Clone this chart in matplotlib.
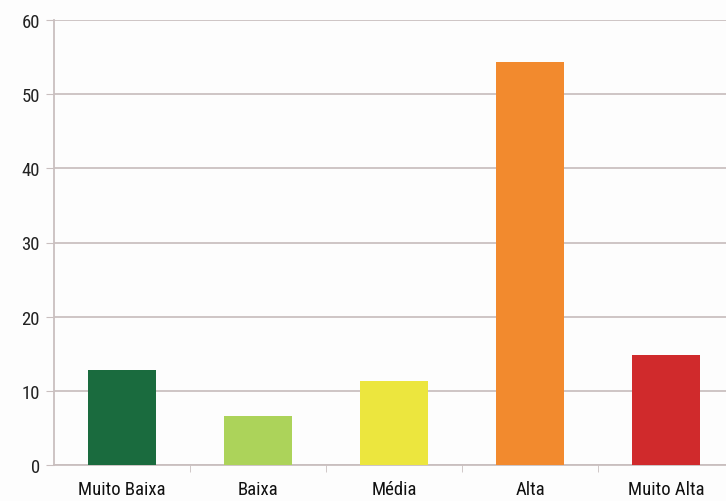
import matplotlib
matplotlib.use('Agg')
import matplotlib.pyplot as plt
from matplotlib import font_manager

categories = ['Muito Baixa', 'Baixa', 'Média', 'Alta', 'Muito Alta']
values = [12.8, 6.6, 11.3, 54.4, 14.8]
colors = ['#1a6b3e', '#acd35a', '#ece63e', '#f28a2e', '#d02a2c']
yticks = [0, 10, 20, 30, 40, 50, 60]

# pick a narrow face if one is present
fonts = font_manager.fontManager.ttflist
names = {f.name for f in fonts}
family, stretch = 'DejaVu Sans', 'condensed'
for cand in ['Liberation Sans Narrow', 'Roboto Condensed', 'Open Sans Condensed']:
    if cand in names:
        family, stretch = cand, 'normal'
        break
plt.rcParams['font.family'] = [family, 'DejaVu Sans']
plt.rcParams['font.stretch'] = stretch

fig = plt.figure(figsize=(7.26, 5.02), dpi=100, facecolor='#fdfdfd')
ax = fig.add_axes([54 / 726, 1 - 466 / 502, 680 / 726, 445 / 502])
ax.set_facecolor('#fdfdfd')

x = range(len(categories))
ax.bar(x, values, width=0.5, color=colors, zorder=3)

ax.set_xlim(-0.5, 4.5)
ax.set_ylim(0, 60)
ax.set_yticks(yticks)
ax.set_yticklabels([str(v) for v in yticks], fontsize=13.5, color='#222222')
ax.set_xticks(list(x))
ax.set_xticklabels(categories, fontsize=13.5, color='#111111')
ax.tick_params(axis='x', length=0, pad=11)
ax.tick_params(axis='y', length=6, color='#c9bfbf', pad=4)
ax.set_xticks([i + 0.5 for i in range(len(categories) - 1)], minor=True)
ax.tick_params(axis='x', which='minor', length=5, color='#c9bfbf')

ax.grid(axis='y', color='#cbc1c1', linewidth=1.3, zorder=0)
for side in ['top', 'right']:
    ax.spines[side].set_visible(False)
for side in ['left', 'bottom']:
    ax.spines[side].set_color('#c9bfbf')
    ax.spines[side].set_linewidth(1.3)

fig.savefig('out.png', dpi=100, facecolor=fig.get_facecolor())
